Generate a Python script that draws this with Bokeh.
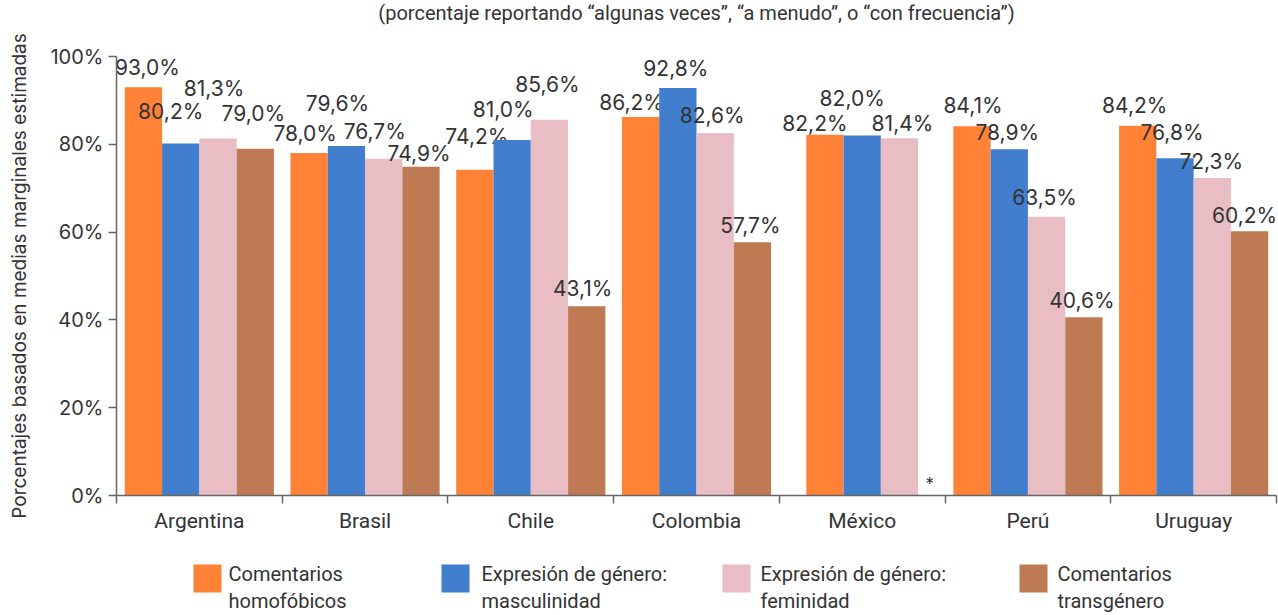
from bokeh.plotting import figure
from bokeh.models import FixedTicker, Range1d, ColumnDataSource
from bokeh.layouts import column
from bokeh.embed import file_html
from bokeh.resources import INLINE
from bokeh.core.properties import value

# ---------------- data ----------------
title_text = "(porcentaje reportando \u201calgunas veces\u201d, \u201ca menudo\u201d, o \u201ccon frecuencia\u201d)"
y_axis_title = "Porcentajes basados en medias marginales estimadas"
countries = ["Argentina", "Brasil", "Chile", "Colombia", "México", "Perú", "Uruguay"]
legend_labels = ["Comentarios\nhomofóbicos", "Expresión de género:\nmasculinidad",
                 "Expresión de género:\nfeminidad", "Comentarios\ntransgénero"]
homofobicos = [93.0, 78.0, 74.2, 86.2, 82.2, 84.1, 84.2]
masculinidad = [80.2, 79.6, 81.0, 92.8, 82.0, 78.9, 76.8]
feminidad = [81.3, 76.7, 85.6, 82.6, 81.4, 63.5, 72.3]
transgenero = [79.0, 74.9, 43.1, 57.7, None, 40.6, 60.2]
missing_mark = "*"
y_ticks = [0, 20, 40, 60, 80, 100]

# ---------------- styles / positions ----------------
colors = ["#FF8236", "#417FCE", "#E8BEC4", "#BE7A52"]
series = [homofobicos, masculinidad, feminidad, transgenero]
bar_w = 0.225
# value-label offsets in screen pixels (per series, per country)
label_dx = [[4, -4, 2, -9, -10, 1, -3],
            [-10, -9, -9, -2, -10, -2, -3],
            [-4, -9, -2, -3, 3, -2, -1],
            [-2, -2, -4, -2, 0, -2, -5]]
label_dy = [[-20, -20, -33, -15, -11, -21, -20],
            [-32, -43, -30, -20, -37, -17, -26],
            [-50, -27, -35, -17, -15, -19, -17],
            [-35, -13, -18, -17, 0, -17, -16]]
legend_box_x = [193, 441, 722, 1019]
legend_text_x = [228, 481, 760, 1057]

VAL_FONT = "Inter"
COND_FONT = "Roboto"
TXT = "#333333"
AX = "#666666"

W = 1278
FL, FR = 116, 2          # frame borders (left / right)
TOP_H, MAIN_H, LEG_H = 30, 523, 62


def strip(h):
    f = figure(width=W, height=h, x_range=Range1d(FL, W - FR), y_range=Range1d(0, h),
               output_backend="svg", toolbar_location=None,
               min_border_left=FL, min_border_right=FR, min_border_top=0, min_border_bottom=0)
    f.axis.visible = False
    f.grid.visible = False
    f.outline_line_color = None
    return f


# title strip
tt = strip(TOP_H)
tt.text(x=[(FL + W - FR) / 2], y=[TOP_H - 12], text=[title_text], text_align="center",
        text_baseline="middle", text_font=value(COND_FONT), text_font_size="20px", text_color=TXT)

# main chart
p = figure(width=W, height=MAIN_H, x_range=Range1d(0, len(countries)), y_range=Range1d(0, 100),
           output_backend="svg", toolbar_location=None,
           min_border_left=FL, min_border_right=FR, min_border_top=26, min_border_bottom=58)
p.outline_line_color = None
p.grid.visible = False

# bars: the bars present in each country are centred in its slot
for s_idx, vals in enumerate(series):
    xs, tops, txt, dxs, dys = [], [], [], [], []
    for c_idx, v in enumerate(vals):
        if v is None:
            continue
        present = [k for k in range(len(series)) if series[k][c_idx] is not None]
        n = len(present)
        j = present.index(s_idx)
        xs.append(c_idx + 0.5 + (j - (n - 1) / 2) * bar_w)
        tops.append(v)
        txt.append(f"{v:.1f}%".replace(".", ","))
        dxs.append(label_dx[s_idx][c_idx])
        dys.append(label_dy[s_idx][c_idx])
    src = ColumnDataSource(dict(x=xs, top=tops, text=txt, dx=dxs, dy=dys))
    p.vbar(x="x", top="top", bottom=0, width=bar_w, source=src,
           fill_color=colors[s_idx], line_color=None)
    p.text(x="x", y="top", text="text", x_offset="dx", y_offset="dy", source=src,
           text_align="center", text_baseline="middle", text_font=value(VAL_FONT),
           text_font_size="21px", text_color=TXT)

# missing-value marker
mx, my = [], []
for c_idx in range(len(countries)):
    present = [k for k in range(len(series)) if series[k][c_idx] is not None]
    if len(present) < len(series):
        mx.append(c_idx + 0.5 + (len(present) / 2) * bar_w + 0.07)
        my.append(0)
p.text(x=mx, y=my, text=[missing_mark] * len(mx), y_offset=-12, text_align="center",
       text_baseline="middle", text_font=value(VAL_FONT), text_font_size="17px", text_color=TXT)

# x axis: labels in the middle of each slot, ticks on the boundaries
xa = p.xaxis[0]
xa.ticker = FixedTicker(ticks=[i + 0.5 for i in range(len(countries))],
                        minor_ticks=list(range(len(countries) + 1)))
xa.major_label_overrides = {i + 0.5: c for i, c in enumerate(countries)}
xa.major_tick_line_color = None
xa.major_tick_out = 0
xa.major_tick_in = 0
xa.minor_tick_out = 8
xa.minor_tick_in = 0
xa.minor_tick_line_color = AX
xa.minor_tick_line_width = 1.5
xa.axis_line_color = AX
xa.axis_line_width = 1.5
xa.major_label_standoff = 5
xa.major_label_text_font = COND_FONT
xa.major_label_text_font_size = "21px"
xa.major_label_text_color = TXT

ya = p.yaxis[0]
ya.ticker = FixedTicker(ticks=y_ticks)
ya.major_label_overrides = {t: f"{t}%" for t in y_ticks}
ya.minor_tick_line_color = None
ya.major_tick_in = 0
ya.major_tick_out = 8
ya.major_tick_line_color = AX
ya.major_tick_line_width = 1.5
ya.axis_line_color = AX
ya.axis_line_width = 1.5
ya.major_label_standoff = 5
ya.major_label_text_font = VAL_FONT
ya.major_label_text_font_size = "20px"
ya.major_label_text_color = TXT
ya.axis_label = y_axis_title
ya.axis_label_text_font = VAL_FONT
ya.axis_label_text_font_size = "19px"
ya.axis_label_text_font_style = "normal"
ya.axis_label_text_color = TXT
ya.axis_label_standoff = 16

# legend strip (coordinates are page pixels)
lg = strip(LEG_H)
lg.rect(x=[x + 14 for x in legend_box_x], y=[LEG_H - 25] * 4, width=28, height=28,
        width_units="screen", height_units="screen", fill_color=colors, line_color=None)
lg.text(x=legend_text_x, y=[LEG_H - 8] * 4, text=legend_labels,
        text_align="left", text_baseline="top", text_font=value(COND_FONT),
        text_font_size="20px", text_line_height=1.15, text_color=TXT)

layout = column(tt, p, lg, spacing=0)
open("out.html", "w").write(file_html(layout, INLINE))
